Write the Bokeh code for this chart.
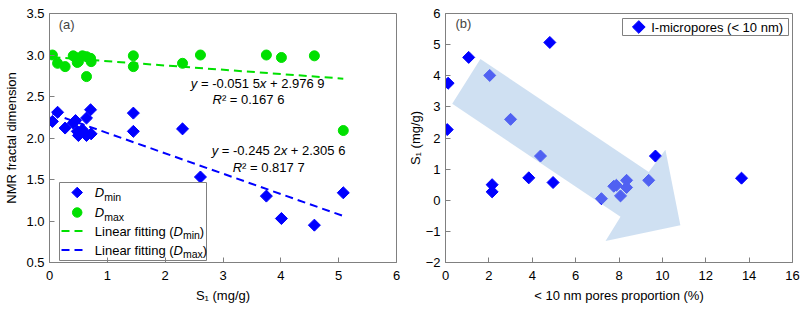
import numpy as np
from bokeh.plotting import figure
from bokeh.layouts import row
from bokeh.models import Label, FixedTicker, PrintfTickFormatter, Range1d
from bokeh.core.properties import value
from bokeh.embed import file_html
from bokeh.resources import INLINE

# ---------------- data: panel (a) ----------------
s1_a = [0.05, 0.14, 0.27, 0.41, 0.45, 0.48, 0.50, 0.57, 0.64, 0.64, 0.71, 0.72,
        1.45, 1.45, 2.30, 2.61, 3.75, 4.01, 4.58, 5.08]
d_min = [2.20, 2.31, 2.12, 2.18, 2.21, 2.08, 2.03, 2.10, 2.24, 2.03, 2.34, 2.05,
         2.30, 2.08, 2.11, 1.53, 1.30, 1.03, 0.95, 1.34]
d_max = [3.00, 2.90, 2.86, 2.99, 2.97, 2.91, 2.92, 2.99, 2.74, 2.98, 2.96, 2.92,
         2.99, 2.86, 2.90, 3.00, 3.00, 2.97, 2.99, 2.09]
fit_max = (-0.0515, 2.9769)   # slope, intercept (green)
fit_min = (-0.2452, 2.3056)   # slope, intercept (blue)
a_xticks = [0, 1, 2, 3, 4, 5, 6]
a_yticks = [0.5, 1.0, 1.5, 2.0, 2.5, 3.0, 3.5]

# ---------------- data: panel (b) ----------------
pores_pct = [0.12, 0.08, 1.07, 2.04, 3.00, 4.81, 4.38, 9.68, 2.15, 2.15, 3.84, 4.96,
             7.19, 7.76, 7.88, 8.35, 8.35, 8.07, 9.37, 13.65]
s1_b = [3.76, 2.27, 4.59, 4.01, 2.60, 5.07, 1.42, 1.42, 0.50, 0.27, 0.72, 0.57,
        0.05, 0.45, 0.48, 0.64, 0.41, 0.14, 0.64, 0.71]
arrow_x = [1.61, 0.31, 8.07, 7.38, 10.83, 10.14, 9.37]
arrow_y = [4.54, 3.10, -0.53, -1.31, -0.80, 1.62, 0.91]
b_xticks = [0, 2, 4, 6, 8, 10, 12, 14, 16]
b_yticks = [-2, -1, 0, 1, 2, 3, 4, 5, 6]

FONT = "Liberation Sans"
FS = "13px"
GRAY = "#808080"
BLUE = "#0000FF"
GREEN = "#00E000"

# Arial / Liberation Sans advance widths (em)
W = {' ': 0.278, '=': 0.584, '-': 0.333, '+': 0.584, '.': 0.278, 'y': 0.5, 'x': 0.5,
     'R': 0.722, '\u00b2': 0.333, 'L': 0.556, 'i': 0.222, 'n': 0.556, 'e': 0.556,
     'a': 0.556, 'r': 0.333, 'f': 0.278, 't': 0.278, 'g': 0.556, '(': 0.333, ')': 0.333,
     'D': 0.722, 'm': 0.833}


def tw(s, size=13.0):
    return sum(W.get(c, 0.556) for c in s) * size


def add_mixed(p, x, y, pieces):
    total = tw("".join(t for t, _ in pieces))
    off = -total / 2
    for t, style in pieces:
        lead = len(t) - len(t.lstrip(" "))
        p.add_layout(Label(x=x, y=y, x_offset=off + tw(" " * lead), text=t.strip(" "),
                           text_font_style=style, text_align="left", text_baseline="middle",
                           text_font=FONT, text_font_size=FS, text_color="#000000"))
        off += tw(t)


def legend_text(p, x, y, pieces):
    # pieces: (text, style, font size px, vertical shift px)
    cx = x
    for t, style, size, dy in pieces:
        p.text(x=[cx], y=[y + dy], text=[t], text_font=value(FONT),
               text_font_style=value(style), text_font_size=value(f"{size}px"),
               text_align="left", text_baseline="middle", text_color="#000000",
               x_range_name="px", y_range_name="px")
        cx += tw(t, size)


def style_axes(p):
    for ax in (p.xaxis[0], p.yaxis[0]):
        ax.axis_line_color = GRAY
        ax.major_tick_line_color = GRAY
        ax.major_tick_in = 5
        ax.major_tick_out = 0
        ax.minor_tick_line_color = None
        ax.major_label_text_font = FONT
        ax.major_label_text_font_size = FS
        ax.major_label_text_color = "#000000"
        ax.axis_label_text_font = FONT
        ax.axis_label_text_font_size = FS
        ax.axis_label_text_font_style = "normal"
        ax.axis_label_text_color = "#000000"
    p.xaxis.major_label_standoff = 8
    p.xaxis.axis_label_standoff = 5
    p.yaxis.major_label_standoff = 5
    p.grid.visible = False
    p.outline_line_color = GRAY
    p.outline_line_width = 1


# ---------------- panel (a) ----------------
FWA, FHA = 347, 249
pa = figure(width=404, height=306, output_backend="svg", toolbar_location=None,
            x_range=Range1d(0, 6), y_range=Range1d(0.5, 3.5),
            min_border_left=49, min_border_right=8, min_border_top=13, min_border_bottom=44)
pa.extra_x_ranges = {"px": Range1d(0, FWA)}
pa.extra_y_ranges = {"px": Range1d(0, FHA)}
style_axes(pa)
pa.yaxis.axis_label_standoff = 4
pa.xaxis.ticker = FixedTicker(ticks=a_xticks)
pa.yaxis.ticker = FixedTicker(ticks=a_yticks)
pa.yaxis.formatter = PrintfTickFormatter(format="%.1f")
pa.xaxis.axis_label = "S\u2081 (mg/g)"
pa.yaxis.axis_label = "NMR fractal dimension"

xs = np.array([min(s1_a), max(s1_a)])
pa.line(xs, fit_max[0] * xs + fit_max[1], line_color=GREEN, line_width=2, line_dash="8 5")
pa.line(xs, fit_min[0] * xs + fit_min[1], line_color=BLUE, line_width=2, line_dash="8 5")
pa.scatter(s1_a, d_max, marker="circle", size=10, fill_color=GREEN, line_color=GREEN)
pa.scatter(s1_a, d_min, marker="square", angle=np.pi / 4, size=8.5,
           fill_color=BLUE, line_color=BLUE)

add_mixed(pa, 3.60, 2.66, [("y", "italic"), (" = -0.051 5", "normal"), ("x", "italic"), (" + 2.976 9", "normal")])
add_mixed(pa, 3.44, 2.46, [("R", "italic"), ("\u00b2 = 0.167 6", "normal")])
add_mixed(pa, 3.96, 1.85, [("y", "italic"), (" = -0.245 2", "normal"), ("x", "italic"), (" + 2.305 6", "normal")])
add_mixed(pa, 3.79, 1.64, [("R", "italic"), ("\u00b2 = 0.817 7", "normal")])
pa.add_layout(Label(x=0.16, y=3.37, text="(a)", text_font=FONT, text_font_size=FS,
                    text_baseline="middle", text_align="left"))

# legend (a), placed in frame pixel coordinates
PX = dict(x_range_name="px", y_range_name="px")
pa.quad(left=[10], right=[157], bottom=[2], top=[80], fill_color="white",
        line_color=GRAY, line_width=1, **PX)
pa.scatter([27.7], [70], marker="square", angle=np.pi / 4, size=7.5,
           fill_color=BLUE, line_color=BLUE, **PX)
pa.scatter([27.7], [50], marker="circle", size=9.5, fill_color=GREEN, line_color=GREEN, **PX)
pa.line([12, 38], [31.5, 31.5], line_color=GREEN, line_width=2, line_dash="8 5", **PX)
pa.line([12, 38], [12.5, 12.5], line_color=BLUE, line_width=2, line_dash="8 5", **PX)
SUB = 10.5
legend_text(pa, 45.3, 70, [("D", "italic", 13, 0), ("min", "normal", SUB, -4)])
legend_text(pa, 45.3, 50, [("D", "italic", 13, 0), ("max", "normal", SUB, -4)])
legend_text(pa, 45.3, 31.5, [("Linear fitting (", "normal", 13, 0), ("D", "italic", 13, 0),
                             ("min", "normal", SUB, -4), (")", "normal", 13, 0)])
legend_text(pa, 45.3, 12.5, [("Linear fitting (", "normal", 13, 0), ("D", "italic", 13, 0),
                             ("max", "normal", SUB, -4), (")", "normal", 13, 0)])

# ---------------- panel (b) ----------------
FWB, FHB = 347, 249
pb = figure(width=397, height=306, output_backend="svg", toolbar_location=None,
            x_range=Range1d(0, 16), y_range=Range1d(-2, 6),
            min_border_left=41, min_border_right=9, min_border_top=13, min_border_bottom=44)
pb.extra_x_ranges = {"px": Range1d(0, FWB)}
pb.extra_y_ranges = {"px": Range1d(0, FHB)}
style_axes(pb)
pb.yaxis.axis_label_standoff = 0
pb.xaxis.ticker = FixedTicker(ticks=b_xticks)
pb.yaxis.ticker = FixedTicker(ticks=b_yticks)
pb.xaxis.axis_label = "< 10 nm pores proportion (%)"
pb.yaxis.axis_label = "S\u2081 (mg/g)"

pb.scatter(pores_pct, s1_b, marker="square", angle=np.pi / 4, size=8.5,
           fill_color=BLUE, line_color=BLUE)
pb.patch(arrow_x, arrow_y, fill_color="#9fc2e6", fill_alpha=0.5, line_color=None)
pb.add_layout(Label(x=0.46, y=5.67, text="(b)", text_font=FONT, text_font_size=FS,
                    text_baseline="middle", text_align="left"))

# legend (b)
pb.quad(left=[177], right=[343], bottom=[227], top=[244], fill_color="white",
        line_color=GRAY, line_width=1, **PX)
pb.scatter([193.3], [235.5], marker="square", angle=np.pi / 4, size=9,
           fill_color=BLUE, line_color=BLUE, **PX)
legend_text(pb, 205.7, 235.5, [("I-micropores (< 10 nm)", "normal", 13, 0)])

layout = row(pa, pb, spacing=0)
open("out.html", "w").write(file_html(layout, INLINE))
